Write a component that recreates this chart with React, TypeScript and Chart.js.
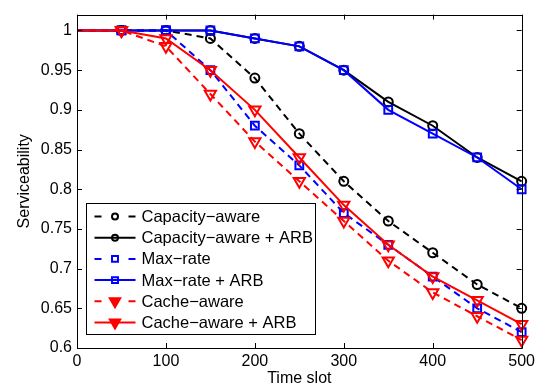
import { useEffect, useRef } from 'react';
import { Chart, registerables } from 'chart.js';

Chart.register(...registerables);

const timeSlots = [0, 50, 100, 150, 200, 250, 300, 350, 400, 450, 500];
const capacityAware = [1, 1, 1, 0.99, 0.94, 0.87, 0.81, 0.76, 0.72, 0.68, 0.65];
const capacityAwareARB = [1, 1, 1, 1, 0.99, 0.98, 0.95, 0.91, 0.88, 0.84, 0.81];
const maxRate = [1, 1, 1, 0.95, 0.88, 0.83, 0.77, 0.73, 0.69, 0.65, 0.62];
const maxRateARB = [1, 1, 1, 1, 0.99, 0.98, 0.95, 0.9, 0.87, 0.84, 0.8];
const cacheAware = [1, 1, 0.98, 0.92, 0.86, 0.81, 0.76, 0.71, 0.67, 0.64, 0.61];
const cacheAwareARB = [1, 1, 0.99, 0.95, 0.9, 0.84, 0.78, 0.73, 0.69, 0.66, 0.63];

const seriesLabels = [
  'Capacity−aware',
  'Capacity−aware + ARB',
  'Max−rate',
  'Max−rate + ARB',
  'Cache−aware',
  'Cache−aware + ARB',
];
const seriesValues = [capacityAware, capacityAwareARB, maxRate, maxRateARB, cacheAware, cacheAwareARB];

const xTicks = [0, 100, 200, 300, 400, 500];
const yTicks = [0.6, 0.65, 0.7, 0.75, 0.8, 0.85, 0.9, 0.95, 1];
const xTitle = 'Time slot';
const yTitle = 'Serviceability';

const FONT = '"Liberation Sans", Arial, Helvetica, sans-serif';

type Style = { color: string; dashed: boolean; point: string; r: number; rot: number; lr: number };
const styles: Style[] = [
  { color: '#000000', dashed: true, point: 'circle', r: 4.5, rot: 0, lr: 3.5 },
  { color: '#000000', dashed: false, point: 'circle', r: 4.5, rot: 0, lr: 3.5 },
  { color: '#0000ff', dashed: true, point: 'rect', r: 5.5, rot: 0, lr: 4.2 },
  { color: '#0000ff', dashed: false, point: 'rect', r: 5.5, rot: 0, lr: 4.2 },
  { color: '#ff0000', dashed: true, point: 'triangle', r: 6.5, rot: 180, lr: 6 },
  { color: '#ff0000', dashed: false, point: 'triangle', r: 6.5, rot: 180, lr: 6 },
];

function drawMarker(ctx: CanvasRenderingContext2D, st: Style, x: number, y: number) {
  ctx.save();
  ctx.strokeStyle = st.color;
  ctx.fillStyle = st.color;
  ctx.lineWidth = 2;
  ctx.setLineDash([]);
  ctx.beginPath();
  const r = st.lr;
  if (st.point === 'circle') {
    ctx.arc(x, y, r - 0.5, 0, Math.PI * 2);
    ctx.stroke();
  } else if (st.point === 'rect') {
    const s = r * Math.SQRT1_2;
    ctx.rect(x - s, y - s, 2 * s, 2 * s);
    ctx.stroke();
  } else {
    ctx.moveTo(x - r * 0.866, y - r * 0.5);
    ctx.lineTo(x + r * 0.866, y - r * 0.5);
    ctx.lineTo(x, y + r);
    ctx.closePath();
    ctx.fill();
    ctx.stroke();
  }
  ctx.restore();
}

const frameAndLegend = {
  id: 'frameAndLegend',
  afterDatasetsDraw(chart: any) {
    const { ctx, chartArea } = chart;
    const { left, right, top, bottom } = chartArea;
    const xs = chart.scales.x;
    const ys = chart.scales.y;
    ctx.save();
    ctx.strokeStyle = '#000';
    ctx.lineWidth = 1;
    ctx.setLineDash([]);
    ctx.beginPath();
    ctx.rect(Math.round(left) + 0.5, Math.round(top) + 0.5, Math.round(right - left), Math.round(bottom - top));
    ctx.stroke();
    const tl = 5;
    ctx.beginPath();
    xTicks.forEach((v) => {
      const px = Math.round(xs.getPixelForValue(v)) + 0.5;
      ctx.moveTo(px, bottom);
      ctx.lineTo(px, bottom - tl);
      ctx.moveTo(px, top);
      ctx.lineTo(px, top + tl);
    });
    yTicks.forEach((v) => {
      const py = Math.round(ys.getPixelForValue(v)) + 0.5;
      ctx.moveTo(left, py);
      ctx.lineTo(left + tl, py);
      ctx.moveTo(right, py);
      ctx.lineTo(right - tl, py);
    });
    ctx.stroke();

    // legend
    const bx = Math.round(left + 9) + 0.5;
    const bw = 229;
    const bh = 131;
    const by = Math.round(bottom - 14 - bh) + 0.5;
    ctx.fillStyle = '#fff';
    ctx.fillRect(bx, by, bw, bh);
    ctx.strokeStyle = '#000';
    ctx.lineWidth = 1;
    ctx.strokeRect(bx, by, bw, bh);
    ctx.font = `16.5px ${FONT}`;
    ctx.textBaseline = 'middle';
    ctx.textAlign = 'left';
    seriesLabels.forEach((label, i) => {
      const st = styles[i];
      const y = by + 13 + i * 21.2;
      const x0 = bx + 8;
      const x1 = bx + 49;
      const xm = (x0 + x1) / 2;
      ctx.strokeStyle = st.color;
      ctx.lineWidth = 2;
      ctx.beginPath();
      if (st.dashed) {
        ctx.moveTo(x0, y);
        ctx.lineTo(x0 + 7, y);
        ctx.moveTo(x1 - 7, y);
        ctx.lineTo(x1, y);
      } else {
        ctx.moveTo(x0, y);
        ctx.lineTo(x1, y);
      }
      ctx.stroke();
      drawMarker(ctx, st, xm, y);
      ctx.fillStyle = '#000';
      ctx.fillText(label, bx + 55, y + 1);
    });
    ctx.restore();
  },
};

export default function App() {
  const ref = useRef<HTMLCanvasElement>(null);
  useEffect(() => {
    document.body.style.margin = '0';
    const canvas = ref.current;
    if (!canvas) return;
    const datasets = seriesValues.map((vals, i) => {
      const st = styles[i];
      return {
        label: seriesLabels[i],
        data: timeSlots.map((t, j) => ({ x: t, y: vals[j] })),
        borderColor: st.color,
        backgroundColor: 'rgba(0,0,0,0)',
        borderWidth: 2,
        borderDash: st.dashed ? [7, 5] : [],
        pointStyle: st.point,
        pointRotation: st.rot,
        pointRadius: timeSlots.map((t) => (t === 0 ? 0 : st.r)),
        pointBorderWidth: 2,
        pointBorderColor: st.color,
        pointBackgroundColor: 'rgba(0,0,0,0)',
        tension: 0,
        clip: false,
        order: seriesValues.length - 1 - i,
      };
    });
    const chart = new Chart(canvas, {
      type: 'line',
      data: { datasets },
      plugins: [frameAndLegend],
      options: {
        animation: false,
        responsive: true,
        maintainAspectRatio: false,
        layout: { padding: { top: 13, right: 14, left: 0, bottom: 0 } },
        plugins: { legend: { display: false }, tooltip: { enabled: false } },
        scales: {
          x: {
            type: 'linear',
            min: 0,
            max: 500,
            afterBuildTicks: (s: any) => {
              s.ticks = xTicks.map((v) => ({ value: v }));
            },
            afterFit: (s: any) => {
              s.height = 40;
            },
            grid: { display: false, drawTicks: false },
            border: { display: false },
            ticks: {
              color: '#000',
              padding: 4,
              maxRotation: 0,
              autoSkip: false,
              font: { family: FONT, size: 16 },
              callback: (v: any) => String(v),
            },
            title: {
              display: true,
              text: xTitle,
              color: '#000',
              padding: { top: 0, bottom: 0 },
              font: { family: FONT, size: 16 },
            },
          },
          y: {
            type: 'linear',
            min: 0.6,
            max: 1.02,
            afterBuildTicks: (s: any) => {
              s.ticks = yTicks.map((v) => ({ value: v }));
            },
            afterFit: (s: any) => {
              s.width = 77;
            },
            grid: { display: false, drawTicks: false },
            border: { display: false },
            ticks: {
              color: '#000',
              padding: 5,
              autoSkip: false,
              font: { family: FONT, size: 16 },
              callback: (v: any) => String(Math.round(v * 100) / 100),
            },
            title: {
              display: true,
              text: yTitle,
              color: '#000',
              padding: { top: 15, bottom: 0 },
              font: { family: FONT, size: 16 },
            },
          },
        },
      } as any,
    });
    return () => chart.destroy();
  }, []);
  return (
    <div style={{ position: 'absolute', left: 0, top: 0, width: 539, height: 388 }}>
      <canvas ref={ref} />
    </div>
  );
}
